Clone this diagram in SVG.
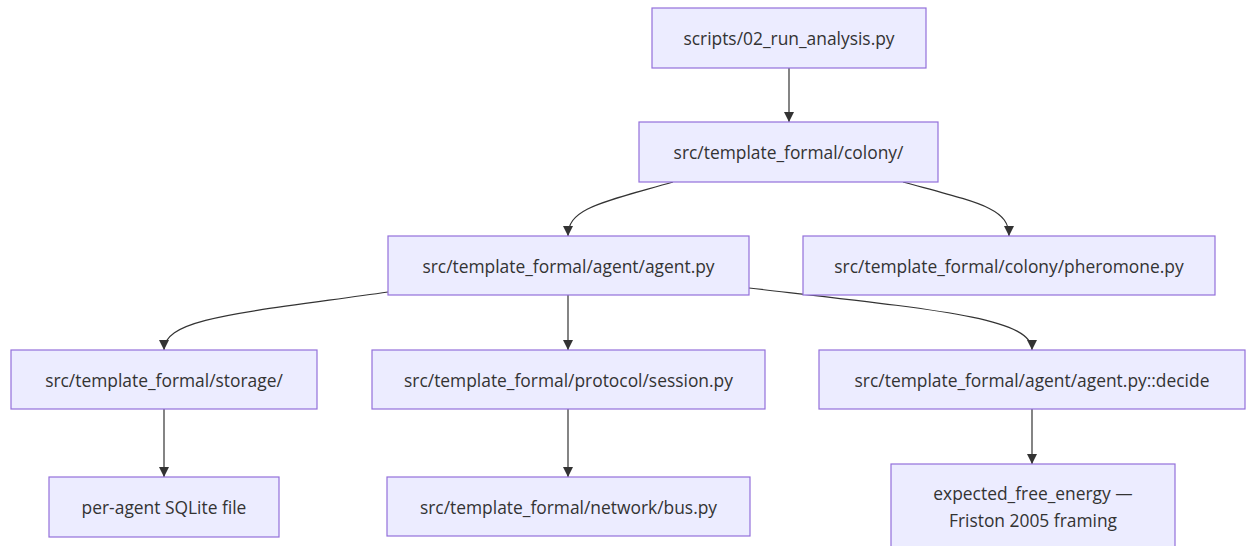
<svg xmlns="http://www.w3.org/2000/svg" width="1246" height="546" viewBox="0 0 1246 546">
<style>
.node rect{fill:#ECECFF;stroke:#9370DB;stroke-width:1.2}
.node text{font-family:"Open Sans","Liberation Sans",sans-serif;font-size:17.4px;fill:#333;text-anchor:middle;dominant-baseline:central}
.edge{fill:none;stroke:#333;stroke-width:1.2}
</style>
<defs>
<marker id="arrow" viewBox="0 0 10 10" refX="10" refY="5" markerWidth="10" markerHeight="10" markerUnits="userSpaceOnUse" orient="auto">
<path d="M0,0 L10,5 L0,10 z" fill="#333"/>
</marker>
</defs>
<rect width="1246" height="546" fill="#fff"/>
<g id="edges">
<path class="edge" d="M789,68 L789,122" marker-end="url(#arrow)"/>
<path class="edge" d="M673,182 C600,203 568,208 568,236" marker-end="url(#arrow)"/>
<path class="edge" d="M903,182 C980,203 1009,208 1009,236" marker-end="url(#arrow)"/>
<path class="edge" d="M388,292 C240,313 164,318 164,350" marker-end="url(#arrow)"/>
<path class="edge" d="M568,295 L568,350" marker-end="url(#arrow)"/>
<path class="edge" d="M749,288 C940,310 1032,318 1032,350" marker-end="url(#arrow)"/>
<path class="edge" d="M164,409 L164,477" marker-end="url(#arrow)"/>
<path class="edge" d="M568,409 L568,477" marker-end="url(#arrow)"/>
<path class="edge" d="M1032,409 L1032,464" marker-end="url(#arrow)"/>
</g>
<g id="n1" class="node"><rect x="652" y="8" width="274" height="60"/><text x="789" y="38">scripts/02_run_analysis.py</text></g>
<g id="n2" class="node"><rect x="639" y="122" width="299" height="60"/><text x="788.5" y="152">src/template_formal/colony/</text></g>
<g id="n3" class="node"><rect x="388" y="236" width="361" height="59"/><text x="568.5" y="265.5">src/template_formal/agent/agent.py</text></g>
<g id="n4" class="node"><rect x="803" y="236" width="412" height="59"/><text x="1009" y="265.5">src/template_formal/colony/pheromone.py</text></g>
<g id="n5" class="node"><rect x="11" y="350" width="306" height="59"/><text x="164" y="379.5">src/template_formal/storage/</text></g>
<g id="n6" class="node"><rect x="49" y="477" width="230" height="60"/><text x="164" y="507">per-agent SQLite file</text></g>
<g id="n7" class="node"><rect x="372" y="350" width="393" height="59"/><text x="568.5" y="379.5">src/template_formal/protocol/session.py</text></g>
<g id="n8" class="node"><rect x="387" y="477" width="363" height="59"/><text x="568.5" y="506.5">src/template_formal/network/bus.py</text></g>
<g id="n9" class="node"><rect x="819" y="350" width="426" height="59"/><text x="1032" y="379.5">src/template_formal/agent/agent.py::decide</text></g>
<g id="n10" class="node"><rect x="891" y="464" width="284" height="86"/><text x="1033" y="493">expected_free_energy —</text><text x="1033" y="520">Friston 2005 framing</text></g>
</svg>
